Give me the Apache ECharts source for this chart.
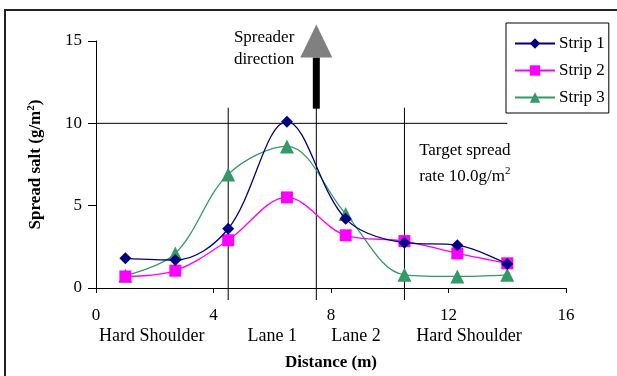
<!DOCTYPE html>
<html>
<head>
<meta charset="utf-8">
<script src="https://cdn.jsdelivr.net/npm/echarts@6/dist/echarts.min.js"></script>
<style>
  html, body { margin: 0; padding: 0; background: #fff; }
  #chart { width: 617px; height: 376px; }
</style>
</head>
<body>
<div id="chart"></div>
<script>
// Measurement positions across the carriageway (m)
const distance = [1.0, 2.7, 4.5, 6.5, 8.5, 10.5, 12.3, 14.0];
// Spread salt per strip (g/m2)
const strip1 = [1.8, 1.7, 3.6, 10.1, 4.2, 2.75, 2.6, 1.45];
const strip2 = [0.7, 1.05, 2.9, 5.5, 3.2, 2.85, 2.1, 1.5];
const strip3 = [0.75, 2.1, 6.9, 8.6, 4.5, 0.8, 0.7, 0.8];
const seriesNames = ['Strip 1', 'Strip 2', 'Strip 3'];
const xTicks = [0, 4, 8, 12, 16];
const yTicks = [0, 5, 10, 15];
// Lane names and their boundaries (m)
const laneNames = ['Hard Shoulder', 'Lane 1', 'Lane 2', 'Hard Shoulder'];
const laneLabelAt = [1.9, 6.0, 8.85, 12.7];
const laneBoundaries = [4.5, 7.5, 10.5];
const targetRate = 10.0;

const FONT = "'Liberation Serif', 'Times New Roman', serif";
const chart = echarts.init(document.getElementById('chart'), null, { renderer: 'canvas' });

function pairs(ys) { return ys.map((y, i) => [distance[i], y]); }

const colors = ['#000080', '#ff00ff', '#339966'];
const symbols = ['diamond', 'rect', 'triangle'];
const symbolSizes = [12, 12, 14];
const data = [strip1, strip2, strip3];

chart.setOption({
  animation: false,
  textStyle: { fontFamily: FONT },
  grid: { left: 96, right: 51, top: 41, bottom: 88 },
  legend: {
    data: seriesNames,
    orient: 'vertical',
    left: 506,
    top: 23,
    itemWidth: 40,
    itemHeight: 13,
    itemGap: 10,
    padding: [12, 4, 7, 8],
    borderColor: '#000',
    borderWidth: 1,
    backgroundColor: '#fff',
    textStyle: { fontFamily: FONT, fontSize: 17, color: '#000', padding: [0, 0, 0, -1] }
  },
  xAxis: {
    type: 'value',
    min: 0, max: 16, interval: 4,
    name: 'Distance (m)',
    nameLocation: 'middle',
    nameGap: 66,
    nameTextStyle: { fontFamily: FONT, fontSize: 17, fontWeight: 'bold', color: '#000' },
    axisLine: { lineStyle: { color: '#000', width: 1 } },
    axisTick: { show: true, inside: false, length: 5, lineStyle: { color: '#000' } },
    axisLabel: { fontFamily: FONT, fontSize: 17, color: '#000', margin: 19,
      formatter: v => xTicks.includes(v) ? String(v) : '' },
    splitLine: { show: false }
  },
  yAxis: {
    type: 'value',
    min: 0, max: 15, interval: 5,
    name: 'Spread salt (g/m{sup|2})',
    nameLocation: 'middle',
    nameGap: 51,
    nameTextStyle: {
      fontFamily: FONT, fontSize: 17, fontWeight: 'bold', color: '#000',
      rich: { sup: { fontFamily: FONT, fontSize: 11, fontWeight: 'bold', color: '#000', verticalAlign: 'top', padding: [0, 0, 8, 0] } }
    },
    axisLine: { show: true, lineStyle: { color: '#000', width: 1 } },
    axisTick: { show: true, inside: false, length: 8, lineStyle: { color: '#000' } },
    axisLabel: { fontFamily: FONT, fontSize: 17, color: '#000', margin: 14,
      formatter: v => yTicks.includes(v) ? String(v) : '' },
    splitLine: { show: false }
  },
  series: seriesNames.map((name, k) => ({
    name: name,
    type: 'line',
    smooth: 0.35,
    data: pairs(data[k]),
    symbol: symbols[k],
    symbolSize: symbolSizes[k],
    lineStyle: { color: colors[k], width: 1.3 },
    itemStyle: { color: colors[k] },
    z: 5 + (2 - k)
  }))
});

// Reference lines, arrow and annotations placed through the axis scales
function px(x, y) { return chart.convertToPixel({ gridIndex: 0 }, [x, y]); }

const gfx = [];
const axisY = px(0, 0)[1];
const lineTop = px(0, 10.95)[1];

// Target rate line
const t0 = px(0, targetRate), t1 = px(14.0, targetRate);
gfx.push({ type: 'line', shape: { x1: t0[0], y1: t0[1], x2: t1[0], y2: t1[1] },
  style: { stroke: '#000', lineWidth: 1 }, z: 3 });

// Lane boundaries
laneBoundaries.forEach(b => {
  const xb = px(b, 0)[0];
  gfx.push({ type: 'line', shape: { x1: xb, y1: lineTop, x2: xb, y2: axisY + 12 },
    style: { stroke: '#000', lineWidth: 1 }, z: 3 });
});

// Spreader direction arrow above the lane 1/2 boundary
const ax = px(7.5, 0)[0];
const barTop = px(0, 14.0)[1];
const tip = px(0, 16.0)[1];
gfx.push({ type: 'rect', shape: { x: ax - 3.5, y: barTop, width: 7, height: lineTop - barTop + 1 },
  style: { fill: '#000' }, z: 4 });
gfx.push({ type: 'polygon', shape: { points: [[ax, tip], [ax - 16, barTop], [ax + 16, barTop]] },
  style: { fill: '#808080' }, z: 4 });
gfx.push({ type: 'text', style: { text: 'Spreader\ndirection', x: ax - 22, y: px(0, 15.9)[1],
  align: 'right', verticalAlign: 'top', font: '17px ' + FONT, fill: '#000', lineHeight: 22 }, z: 4 });

// Target spread annotation
const ann1 = px(11.0, 8.35);
const ann2 = px(11.0, 6.75);
gfx.push({ type: 'text', style: {
  text: 'Target spread', x: ann1[0], y: ann1[1], align: 'left', verticalAlign: 'middle',
  font: '17px ' + FONT, fill: '#000' }, z: 4 });
gfx.push({ type: 'text', style: {
  text: 'rate 10.0g/m{sup|2}', x: ann2[0], y: ann2[1], align: 'left', verticalAlign: 'middle',
  font: '17px ' + FONT, fill: '#000',
  rich: { sup: { fontSize: 11, fontFamily: FONT, fill: '#000', verticalAlign: 'top', padding: [0, 0, 12, 0] } }
}, z: 4 });

// Lane names under the distance axis
laneNames.forEach((n, i) => {
  const p = px(laneLabelAt[i], 0);
  gfx.push({ type: 'text', style: { text: n, x: p[0], y: axisY + 48, align: 'center', verticalAlign: 'middle',
    font: '18px ' + FONT, fill: '#000' }, z: 4 });
});

// Chart area frame
gfx.push({ type: 'rect', shape: { x: 5, y: 10, width: 640, height: 400 },
  style: { fill: 'none', stroke: '#222', lineWidth: 2 }, z: 1, silent: true });

chart.setOption({ graphic: gfx });
</script>
</body>
</html>
